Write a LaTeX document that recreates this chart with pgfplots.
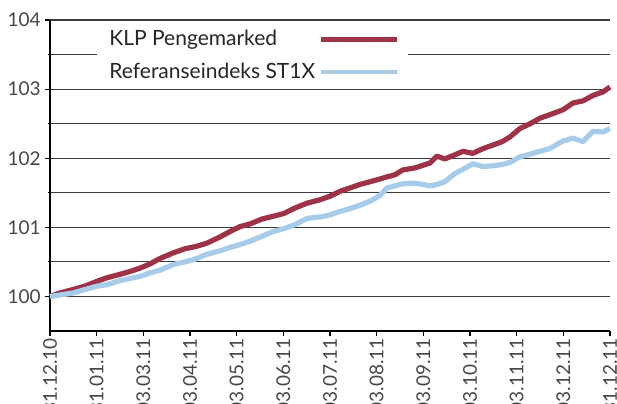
\documentclass[border=0pt]{standalone}
\usepackage{fontspec}
\setmainfont{Lato}
\usepackage{pgfplots}
\pgfplotsset{compat=1.18}
\definecolor{klpred}{RGB}{158,50,70}
\definecolor{refblue}{RGB}{166,204,234}
\definecolor{tickgray}{RGB}{70,70,70}
\definecolor{gridgray}{RGB}{60,60,60}

\begin{document}
\begin{tikzpicture}
\begin{axis}[
  scale only axis,
  width=280pt, height=155.5pt,
  xmin=0, xmax=12, ymin=99.5, ymax=104,
  axis x line*=bottom, axis y line*=left,
  axis line style={black, line width=1pt},
  xtick={0,...,12},
  xticklabels={31.12.10,31.01.11,03.03.11,03.04.11,03.05.11,03.06.11,
    03.07.11,03.08.11,03.09.11,03.10.11,03.11.11,03.12.11,31.12.11},
  xticklabel style={rotate=90, anchor=east, font=\fontsize{9.5}{11}\selectfont,
    text=tickgray, inner xsep=1pt},
  ytick={100,...,104},
  minor ytick={100.5,101.5,102.5,103.5},
  yticklabel style={font=\fontsize{9.5}{11}\selectfont, text=tickgray, inner xsep=2pt},
  /pgf/number format/assume math mode=true,
  tick align=outside,
  major tick length=2.5pt, minor tick length=1.2pt,
  tick style={black, line width=0.6pt},
  ymajorgrids, yminorgrids,
  major grid style={gridgray, line width=0.6pt},
  minor grid style={gridgray, line width=0.6pt},
  extra y ticks={100},
  extra y tick labels={},
  extra y tick style={grid style={black, line width=1.1pt}},
  legend plot pos=right,
  legend image code/.code={\draw[#1, line width=2.2pt] (0pt,0pt) -- (38pt,0pt);},
  legend style={at={(0.084,0.994)}, anchor=north west, draw=none, fill=white,
    font=\fontsize{10.5}{12}\selectfont, text=black!85,
    row sep=3pt, inner xsep=4pt, inner ysep=2pt,
    cells={anchor=west}},
  clip=false,
]
\addplot[klpred, line width=2.6pt, line join=round] coordinates {
  (0,100.00)(0.21,100.05)(0.49,100.10)(0.75,100.15)(1.01,100.22)
  (1.22,100.27)(1.50,100.32)(1.71,100.36)(1.93,100.41)(2.14,100.47)
  (2.36,100.55)(2.64,100.63)(2.89,100.69)(3.11,100.72)(3.36,100.77)
  (3.64,100.86)(3.86,100.94)(4.07,101.01)(4.29,101.05)(4.54,101.12)
  (4.78,101.16)(5.01,101.20)(5.25,101.28)(5.51,101.35)(5.79,101.40)
  (6.00,101.45)(6.21,101.52)(6.43,101.57)(6.64,101.62)(6.86,101.66)
  (7.07,101.70)(7.22,101.73)(7.39,101.76)(7.56,101.83)(7.82,101.86)
  (8.14,101.93)(8.29,102.03)(8.46,101.99)(8.68,102.05)(8.85,102.10)
  (9.06,102.07)(9.28,102.14)(9.49,102.19)(9.69,102.24)(9.86,102.31)
  (10.07,102.43)(10.29,102.50)(10.50,102.58)(10.71,102.63)(10.99,102.70)
  (11.21,102.80)(11.42,102.83)(11.64,102.91)(11.85,102.96)(12,103.03)
};
\addlegendentry{KLP Pengemarked}
\addplot[refblue, line width=2.6pt, line join=round] coordinates {
  (0,100.00)(0.21,100.02)(0.49,100.05)(0.75,100.10)(1.01,100.15)
  (1.22,100.17)(1.50,100.23)(1.71,100.26)(1.93,100.29)(2.14,100.34)
  (2.36,100.38)(2.64,100.46)(2.89,100.50)(3.11,100.54)(3.36,100.61)
  (3.64,100.66)(3.86,100.71)(4.07,100.75)(4.29,100.80)(4.54,100.87)
  (4.78,100.94)(5.01,100.98)(5.25,101.04)(5.51,101.13)(5.79,101.15)
  (6.00,101.18)(6.21,101.23)(6.43,101.27)(6.64,101.32)(6.86,101.38)
  (7.07,101.46)(7.22,101.57)(7.39,101.60)(7.56,101.63)(7.82,101.64)
  (8.14,101.60)(8.29,101.62)(8.46,101.66)(8.68,101.78)(8.85,101.84)
  (9.06,101.92)(9.28,101.88)(9.49,101.89)(9.69,101.91)(9.86,101.94)
  (10.07,102.02)(10.29,102.06)(10.50,102.10)(10.71,102.14)(10.99,102.25)
  (11.21,102.29)(11.42,102.24)(11.64,102.39)(11.85,102.38)(12,102.43)
};
\addlegendentry{Referanseindeks ST1X}
\end{axis}
\pgfresetboundingbox
\useasboundingbox (-25pt,-36pt) rectangle (283.5pt,165.5pt);
\end{tikzpicture}
\end{document}
